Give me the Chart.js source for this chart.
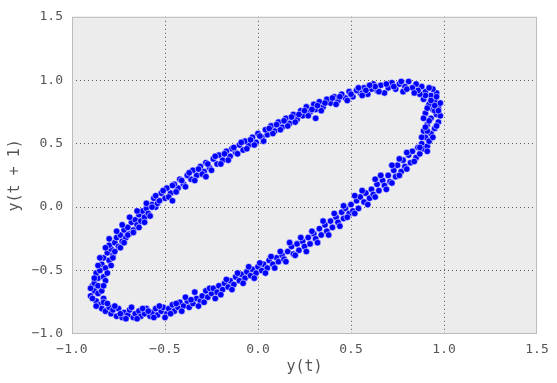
<!DOCTYPE html>
<html>
<head>
<meta charset="utf-8">
<script src="https://cdn.jsdelivr.net/npm/chart.js@4/dist/chart.umd.min.js"></script>
<style>
  html, body { margin: 0; padding: 0; background: #fff; }
  #wrap { width: 557px; height: 383px; }
</style>
</head>
<body>
<div id="wrap"><canvas id="myChart"></canvas></div>
<script>
// lag plot: y(t) on x, y(t + 1) on y
const leftX = [-0.89, -0.88, -0.90, -0.87, -0.88, -0.86, -0.85, -0.84, -0.86, -0.87,
  -0.85, -0.84, -0.83, -0.82, -0.83, -0.81, -0.80, -0.79, -0.80, -0.78,
  -0.77, -0.76, -0.75, -0.74, -0.73, -0.72, -0.71, -0.70, -0.69, -0.68,
  -0.67, -0.66, -0.65, -0.64, -0.63, -0.62, -0.61, -0.60, -0.59, -0.57,
  -0.90, -0.89, -0.86, -0.84, -0.83, -0.86, -0.82, -0.81, -0.85, -0.79,
  -0.82, -0.78, -0.77, -0.80, -0.74, -0.76, -0.72, -0.70, -0.73, -0.67,
  -0.69, -0.64, -0.65, -0.61, -0.60, -0.58, -0.55, -0.87, -0.88, -0.83];
const leftY = [-0.62, -0.66, -0.70, -0.74, -0.60, -0.68, -0.77, -0.80, -0.56, -0.52,
  -0.50, -0.45, -0.55, -0.48, -0.40, -0.36, -0.42, -0.33, -0.30, -0.38,
  -0.28, -0.24, -0.31, -0.22, -0.27, -0.18, -0.24, -0.16, -0.21, -0.12,
  -0.18, -0.10, -0.14, -0.06, -0.11, -0.03, -0.08, -0.01, -0.05, 0.02,
  -0.64, -0.72, -0.62, -0.66, -0.72, -0.46, -0.58, -0.52, -0.40, -0.46,
  -0.32, -0.40, -0.35, -0.25, -0.32, -0.19, -0.28, -0.22, -0.14, -0.20,
  -0.08, -0.16, -0.03, -0.12, 0.03, -0.07, 0.00, -0.78, -0.56, -0.62];

const bottomX = [-0.83, -0.82, -0.80, -0.79, -0.78, -0.76, -0.75, -0.73, -0.72, -0.70,
  -0.69, -0.67, -0.66, -0.64, -0.63, -0.61, -0.60, -0.58, -0.57, -0.55,
  -0.54, -0.52, -0.51, -0.49, -0.48, -0.46, -0.45, -0.43, -0.42, -0.40,
  -0.38, -0.37, -0.35, -0.33, -0.34, -0.31, -0.30, -0.28, -0.27, -0.25,
  -0.81, -0.77, -0.74, -0.71, -0.68, -0.65, -0.62, -0.59, -0.56, -0.53,
  -0.50, -0.47, -0.44, -0.41, -0.39, -0.36, -0.32, -0.29, -0.26, -0.23];
const bottomY = [-0.75, -0.82, -0.79, -0.84, -0.81, -0.86, -0.80, -0.87, -0.83, -0.85,
  -0.81, -0.87, -0.84, -0.82, -0.86, -0.84, -0.80, -0.86, -0.83, -0.80,
  -0.85, -0.82, -0.79, -0.84, -0.80, -0.77, -0.82, -0.79, -0.75, -0.78,
  -0.74, -0.79, -0.76, -0.72, -0.67, -0.74, -0.70, -0.66, -0.71, -0.68,
  -0.76, -0.78, -0.84, -0.88, -0.79, -0.88, -0.80, -0.82, -0.87, -0.78,
  -0.87, -0.84, -0.76, -0.82, -0.71, -0.73, -0.78, -0.75, -0.64, -0.72];

const lowerX = [-0.24, -0.22, -0.21, -0.19, -0.18, -0.16, -0.15, -0.13, -0.12, -0.10,
  -0.09, -0.07, -0.06, -0.04, -0.03, -0.01, 0.00, 0.02, 0.03, 0.05,
  0.06, 0.08, 0.10, 0.11, 0.13, 0.14, 0.16, 0.18, 0.19, 0.21,
  0.22, 0.24, 0.25, 0.27, 0.28, 0.30, 0.31, 0.33, 0.34, 0.36,
  0.37, 0.39, 0.40, 0.42, 0.43, 0.45, 0.46, 0.47, 0.49, 0.50,
  0.51, 0.53, 0.54, 0.55, 0.57, 0.58, 0.60, 0.61, 0.62, 0.64,
  0.65, 0.67, 0.68, 0.70, 0.71, 0.73, 0.74, 0.75, 0.77, 0.78,
  0.79, 0.81, 0.82, 0.83, 0.85, 0.86, 0.87, 0.88, 0.89, 0.91,
  -0.20, -0.17, -0.14, -0.11, -0.08, -0.05, -0.02, 0.01, 0.04, 0.07,
  0.09, 0.12, 0.15, 0.17, 0.20, 0.23, 0.26, 0.29, 0.32, 0.35,
  0.38, 0.41, 0.44, 0.46, 0.48, 0.52, 0.52, 0.56, 0.59, 0.63,
  0.63, 0.66, 0.69, 0.72, 0.72, 0.76, 0.76, 0.80, 0.80, 0.84];
const lowerY = [-0.64, -0.67, -0.62, -0.65, -0.60, -0.63, -0.58, -0.61, -0.55, -0.58,
  -0.53, -0.56, -0.51, -0.54, -0.49, -0.52, -0.47, -0.50, -0.45, -0.48,
  -0.42, -0.45, -0.40, -0.43, -0.38, -0.41, -0.35, -0.31, -0.37, -0.29,
  -0.34, -0.27, -0.31, -0.24, -0.29, -0.21, -0.25, -0.17, -0.22, -0.14,
  -0.19, -0.11, -0.16, -0.08, -0.12, -0.04, -0.09, -0.01, -0.05, 0.02,
  -0.03, 0.05, -0.01, 0.08, 0.04, 0.11, 0.07, 0.14, 0.10, 0.18,
  0.13, 0.21, 0.17, 0.25, 0.20, 0.29, 0.24, 0.33, 0.28, 0.37,
  0.32, 0.41, 0.35, 0.44, 0.39, 0.47, 0.42, 0.50, 0.46, 0.48,
  -0.69, -0.57, -0.65, -0.52, -0.60, -0.47, -0.56, -0.44, -0.52, -0.39,
  -0.48, -0.35, -0.43, -0.28, -0.38, -0.24, -0.35, -0.19, -0.28, -0.11,
  -0.22, -0.05, -0.15, 0.01, -0.08, 0.09, -0.05, 0.13, 0.02, 0.22,
  0.08, 0.25, 0.14, 0.33, 0.19, 0.38, 0.25, 0.43, 0.30, 0.36];

const rightX = [0.90, 0.92, 0.93, 0.89, 0.95, 0.91, 0.97, 0.93, 0.96, 0.90,
  0.94, 0.97, 0.92, 0.95, 0.89, 0.93, 0.96, 0.90, 0.94, 0.88,
  0.87, 0.91, 0.88, 0.94, 0.91, 0.96, 0.92, 0.98, 0.89, 0.95,
  0.91, 0.98, 0.93, 0.90, 0.96, 0.92, 0.87, 0.95, 0.90, 0.97];
const rightY = [0.55, 0.52, 0.58, 0.60, 0.62, 0.65, 0.67, 0.70, 0.73, 0.74,
  0.77, 0.79, 0.81, 0.84, 0.85, 0.88, 0.90, 0.91, 0.93, 0.95,
  0.47, 0.44, 0.55, 0.55, 0.60, 0.64, 0.68, 0.72, 0.70, 0.76,
  0.78, 0.82, 0.84, 0.88, 0.87, 0.94, 0.89, 0.80, 0.63, 0.76];

const upperX = [0.86, 0.85, 0.83, 0.81, 0.79, 0.78, 0.76, 0.74, 0.72, 0.70,
  0.68, 0.66, 0.64, 0.62, 0.61, 0.59, 0.57, 0.55, 0.53, 0.51,
  0.49, 0.47, 0.45, 0.43, 0.41, 0.39, 0.37, 0.35, 0.33, 0.31,
  0.30, 0.31, 0.28, 0.26, 0.24, 0.23, 0.21, 0.19, 0.17, 0.15,
  0.13, 0.11, 0.09, 0.07, 0.05, 0.04, 0.02, 0.00, -0.01, -0.03,
  -0.05, -0.07, -0.08, -0.10, -0.12, -0.14, -0.15, -0.17, -0.19, -0.21,
  -0.22, -0.24, -0.26, -0.28, -0.29, -0.31, -0.33, -0.35, -0.36, -0.38,
  -0.40, -0.42, -0.43, -0.45, -0.47, -0.49, -0.50, -0.52, -0.54, -0.56,
  0.84, 0.80, 0.77, 0.73, 0.69, 0.65, 0.63, 0.60, 0.58, 0.56,
  0.54, 0.50, 0.48, 0.44, 0.42, 0.40, 0.36, 0.34, 0.32, 0.29,
  0.27, 0.25, 0.22, 0.20, 0.18, 0.16, 0.14, 0.12, 0.10, 0.08,
  0.06, 0.03, 0.01, -0.02, -0.04, -0.06, -0.09, -0.11, -0.13, -0.16,
  -0.18, -0.20, -0.23, -0.25, -0.27, -0.30, -0.32, -0.34, -0.37, -0.39,
  -0.41, -0.44, -0.46, -0.48, -0.51, -0.53, -0.55, -0.57, -0.46, -0.28];
const upperY = [0.92, 0.97, 0.94, 0.99, 0.95, 0.91, 0.97, 0.93, 0.98, 0.94,
  0.90, 0.96, 0.92, 0.97, 0.93, 0.89, 0.94, 0.90, 0.92, 0.87,
  0.91, 0.86, 0.89, 0.84, 0.87, 0.82, 0.85, 0.79, 0.83, 0.77,
  0.81, 0.70, 0.75, 0.79, 0.72, 0.76, 0.69, 0.73, 0.66, 0.70,
  0.63, 0.67, 0.60, 0.64, 0.57, 0.61, 0.55, 0.58, 0.51, 0.55,
  0.49, 0.52, 0.45, 0.49, 0.43, 0.46, 0.40, 0.44, 0.37, 0.41,
  0.34, 0.38, 0.31, 0.35, 0.28, 0.32, 0.25, 0.29, 0.22, 0.25,
  0.18, 0.22, 0.15, 0.18, 0.11, 0.15, 0.07, 0.11, 0.03, 0.07,
  0.90, 0.93, 0.99, 0.95, 0.97, 0.91, 0.95, 0.96, 0.92, 0.88,
  0.94, 0.89, 0.84, 0.87, 0.81, 0.86, 0.82, 0.76, 0.80, 0.77,
  0.72, 0.76, 0.73, 0.67, 0.71, 0.64, 0.68, 0.61, 0.65, 0.58,
  0.62, 0.52, 0.56, 0.49, 0.53, 0.46, 0.51, 0.42, 0.47, 0.37,
  0.42, 0.34, 0.40, 0.29, 0.34, 0.26, 0.30, 0.21, 0.27, 0.16,
  0.21, 0.12, 0.17, 0.08, 0.13, 0.05, 0.09, 0.00, 0.05, 0.24];

const axisTicks = [-1.0, -0.5, 0.0, 0.5, 1.0, 1.5];

const toPoints = (xs, ys) => xs.map((x, i) => ({ x: x, y: ys[i] }));

const points = [].concat(
  toPoints(leftX, leftY),
  toPoints(bottomX, bottomY),
  toPoints(lowerX, lowerY),
  toPoints(rightX, rightY),
  toPoints(upperX, upperY)
);

const mono = "'DejaVu Sans Mono', 'Liberation Mono', monospace";

const fmt = (v) => {
  let s = Math.abs(v).toFixed(1);
  return v < 0 ? '\u2212' + s : s;
};

// no grid lines on the frame edges, the frame is drawn by the plugin
const gridColor = (c) => {
  let v = c.tick ? c.tick.value : null;
  return (v === axisTicks[0] || v === axisTicks[axisTicks.length - 1]) ? 'rgba(0,0,0,0)' : '#555';
};

const frame = {
  id: 'frame',
  beforeDraw: (chart) => {
    let a = chart.chartArea;
    let ctx = chart.ctx;
    ctx.save();
    ctx.fillStyle = '#ececec';
    ctx.fillRect(a.left, a.top, a.right - a.left, a.bottom - a.top);
    ctx.restore();
  },
  afterDraw: (chart) => {
    let a = chart.chartArea;
    let ctx = chart.ctx;
    ctx.save();
    ctx.strokeStyle = '#bcbcbc';
    ctx.lineWidth = 1;
    ctx.strokeRect(a.left + 0.5, a.top + 0.5, a.right - a.left - 1, a.bottom - a.top - 1);
    ctx.restore();
  }
};

const ctx = document.getElementById('myChart');

new Chart(ctx, {
  type: 'scatter',
  data: {
    datasets: [{
      label: 'y(t + 1)',
      data: points,
      backgroundColor: '#0000ff',
      borderColor: 'rgba(255,255,255,0.55)',
      borderWidth: 1,
      pointRadius: 3.3,
      pointHoverRadius: 3.3
    }]
  },
  options: {
    responsive: true,
    maintainAspectRatio: false,
    animation: false,
    events: [],
    layout: { padding: { top: 14, right: 20, left: 0, bottom: 0 } },
    plugins: {
      legend: { display: false },
      tooltip: { enabled: false }
    },
    scales: {
      x: {
        type: 'linear',
        min: axisTicks[0],
        max: axisTicks[axisTicks.length - 1],
        afterBuildTicks: (axis) => { axis.ticks = axisTicks.map(v => ({ value: v })); },
        afterFit: (axis) => { axis.height = 49; },
        border: { display: false, dash: [1, 3] },
        grid: { color: gridColor, lineWidth: 1, drawTicks: false },
        ticks: {
          padding: 8,
          color: '#555',
          font: { family: mono, size: 13 },
          callback: (v) => fmt(v)
        },
        title: {
          display: true,
          text: 'y(t)',
          color: '#555',
          padding: { top: 0, bottom: 7 },
          font: { family: mono, size: 15 }
        }
      },
      y: {
        type: 'linear',
        min: axisTicks[0],
        max: axisTicks[axisTicks.length - 1],
        afterBuildTicks: (axis) => { axis.ticks = axisTicks.map(v => ({ value: v })); },
        afterFit: (axis) => { axis.width = 72; },
        border: { display: false, dash: [1, 3] },
        grid: { color: gridColor, lineWidth: 1, drawTicks: false },
        ticks: {
          padding: 9,
          color: '#555',
          font: { family: mono, size: 13 },
          callback: (v) => fmt(v)
        },
        title: {
          display: true,
          text: 'y(t + 1)',
          color: '#555',
          padding: { top: 6, bottom: 0 },
          font: { family: mono, size: 15 }
        }
      }
    }
  },
  plugins: [frame]
});
</script>
</body>
</html>
